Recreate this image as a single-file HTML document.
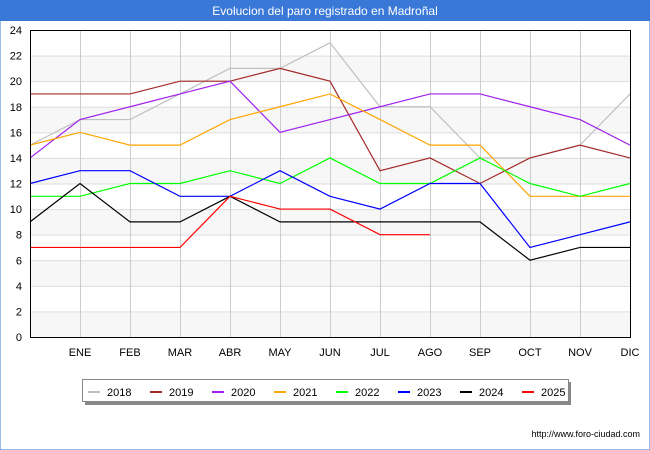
<!DOCTYPE html>
<html><head><meta charset="utf-8"><style>
body{margin:0;background:#fff;font-family:"Liberation Sans","DejaVu Sans",sans-serif}
#wrap{width:650px;height:450px;position:relative;overflow:hidden;border:0}
</style></head><body>
<div id="wrap">
<svg id="chart" width="650" height="450" xmlns="http://www.w3.org/2000/svg">
<rect x="0" y="0" width="650" height="450" fill="#fff" stroke="#3a78d8"/>
<rect x="0" y="0" width="650" height="21" fill="#3a78d8"/>
<text x="325" y="15" text-anchor="middle" font-size="12" fill="#fff">Evolucion del paro registrado en Madroñal</text>
<g id="grid"></g>
<g id="series"></g>
<rect x="30.5" y="30.5" width="600" height="307" fill="none" stroke="#000"/>
<g id="legend"></g>
<text x="640" y="437" text-anchor="end" font-size="9" fill="#000">http://www.foro-ciudad.com</text>
</svg>
</div>
<script>
const months = ["", "ENE","FEB","MAR","ABR","MAY","JUN","JUL","AGO","SEP","OCT","NOV","DIC"];
const yTicks = [0,2,4,6,8,10,12,14,16,18,20,22,24];
const years = ["2018","2019","2020","2021","2022","2023","2024","2025"];
const colors = ["#c0c0c0","#a52a2a","#a020f0","#ffa500","#00ff00","#0000ff","#000000","#ff0000"];
const s2018 = [15,17,17,19,21,21,23,18,18,14,14,15,19];
const s2019 = [19,19,19,20,20,21,20,13,14,12,14,15,14];
const s2020 = [14,17,18,19,20,16,17,18,19,19,18,17,15];
const s2021 = [15,16,15,15,17,18,19,17,15,15,11,11,11];
const s2022 = [11,11,12,12,13,12,14,12,12,14,12,11,12];
const s2023 = [12,13,13,11,11,13,11,10,12,12,7,8,9];
const s2024 = [9,12,9,9,11,9,9,9,9,9,6,7,7];
const s2025 = [7,7,7,7,11,10,10,8,8];
const allSeries = [s2018,s2019,s2020,s2021,s2022,s2023,s2024,s2025];

const NS="http://www.w3.org/2000/svg";
const X0=30,X1=630,Y0=337,Y1=30,YMAX=24;
function xs(i){return X0+(X1-X0)*i/(months.length-1);}
function ys(v){return Y0-(Y0-Y1)*v/YMAX;}
function mk(t,a,p){const e=document.createElementNS(NS,t);for(const k in a)e.setAttribute(k,a[k]);p.appendChild(e);return e;}
const grid=document.getElementById('grid');
for(let i=0;i<yTicks.length-1;i+=1){
  if(i%2==0){const b=mk('rect',{x:X0,y:ys(yTicks[i+1]),width:X1-X0,height:ys(yTicks[i])-ys(yTicks[i+1]),fill:'#f7f7f7'},grid);
  
  }
}
yTicks.forEach(v=>{
  const l=mk('line',{x1:X0,x2:X1,y1:ys(v)+0.5,y2:ys(v)+0.5,stroke:'#ddd'},grid);
  
  
  const t=mk('text',{x:X0-8,y:ys(v)+4,'text-anchor':'end','font-size':'11',fill:'#000'},grid);
  t.textContent=v;
  
  
});
months.forEach((m,i)=>{
  if(i===0)return;
  const l=mk('line',{x1:xs(i)+0.5,x2:xs(i)+0.5,y1:Y1,y2:Y0,stroke:'#ccc'},grid);
  
  
  const t=mk('text',{x:xs(i),y:356,'text-anchor':'middle','font-size':'11',fill:'#000'},grid);
  t.textContent=m;
  
  
});
const sg=document.getElementById('series');
allSeries.forEach((s,k)=>{
  const p=mk('polyline',{points:s.map((v,i)=>xs(i)+','+ys(v)).join(' '),fill:'none',stroke:colors[k],'stroke-width':'1.2'},sg);
  
  
});
const lg=document.getElementById('legend');
const sh=mk('rect',{x:85,y:382,width:486,height:23,fill:'#888'},lg);


const box=mk('rect',{x:82.5,y:379.5,width:486,height:22,fill:'#fff',stroke:'#888'},lg);


years.forEach((y,k)=>{
  const bx=88+k*62;
  const l=mk('line',{x1:bx,x2:bx+12,y1:392,y2:392,stroke:colors[k],'stroke-width':'2'},lg);
  
  
  const t=mk('text',{x:bx+19,y:396,'font-size':'11',fill:'#000'},lg);
  t.textContent=y;
  
  
});
</script>
</body></html>
